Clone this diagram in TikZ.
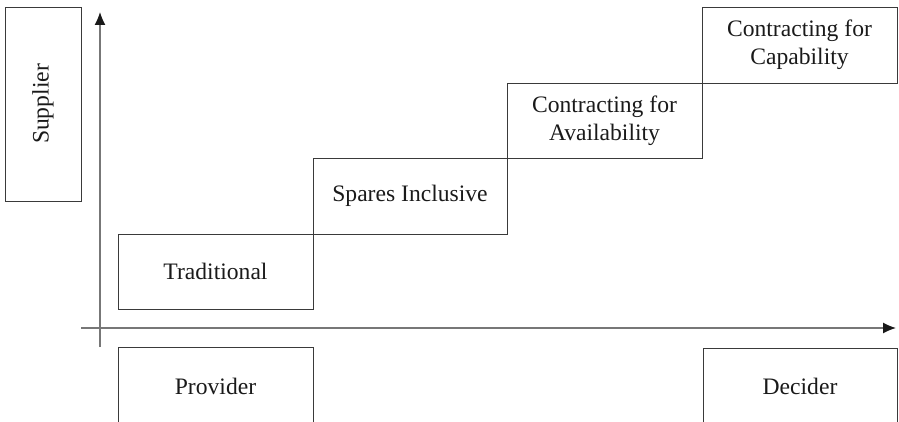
\documentclass[tikz,border=0pt]{standalone}
\usepackage{fontspec}
\setmainfont{Liberation Serif}
\usetikzlibrary{arrows.meta}
\definecolor{boxline}{HTML}{3A3A3A}
\definecolor{axisline}{HTML}{777777}
\definecolor{txt}{HTML}{1A1A1A}
\begin{document}
\begin{tikzpicture}[x=0.5pt,y=-0.5pt,
  stage/.style={draw=boxline, line width=0.45pt, inner sep=0pt, outer sep=0pt,
    align=center, text=txt, font=\fontsize{11.8}{14}\selectfont},
  axis/.style={draw=axisline, line width=0.65pt, -{Latex[length=6.5pt,width=5.5pt,color=black!90]}}]
\clip (0,0) rectangle (899,422);
\node[stage, minimum width=38pt, minimum height=97pt] (sup) at (43,104) {};
\node[rotate=90, text=txt, font=\fontsize{11.8}{14}\selectfont] (suptxt) at (sup.center) {Supplier};
\node[stage, minimum width=97.5pt, minimum height=37.5pt] (trad) at (215.5,271.5) {Traditional};
\node[stage, minimum width=97pt, minimum height=38pt] (spar) at (410,196) {Spares Inclusive};
\node[stage, minimum width=97.5pt, minimum height=37.5pt] (avail) at (604.5,120.5) {Contracting for\\Availability};
\node[stage, minimum width=97.5pt, minimum height=38pt] (capa) at (799.5,45) {Contracting for\\Capability};
\node[stage, minimum width=97.5pt, minimum height=39pt] (prov) at (215.5,386) {Provider};
\node[stage, minimum width=97pt, minimum height=38.5pt] (deci) at (800,386.5) {Decider};
\coordinate (ya0) at (100,347);
\coordinate (ya1) at (100,12);
\coordinate (xa0) at (81,328);
\coordinate (xa1) at (896,328);
\draw[axis] (ya0) -- (ya1);
\draw[axis] (xa0) -- (xa1);
\end{tikzpicture}
\end{document}
